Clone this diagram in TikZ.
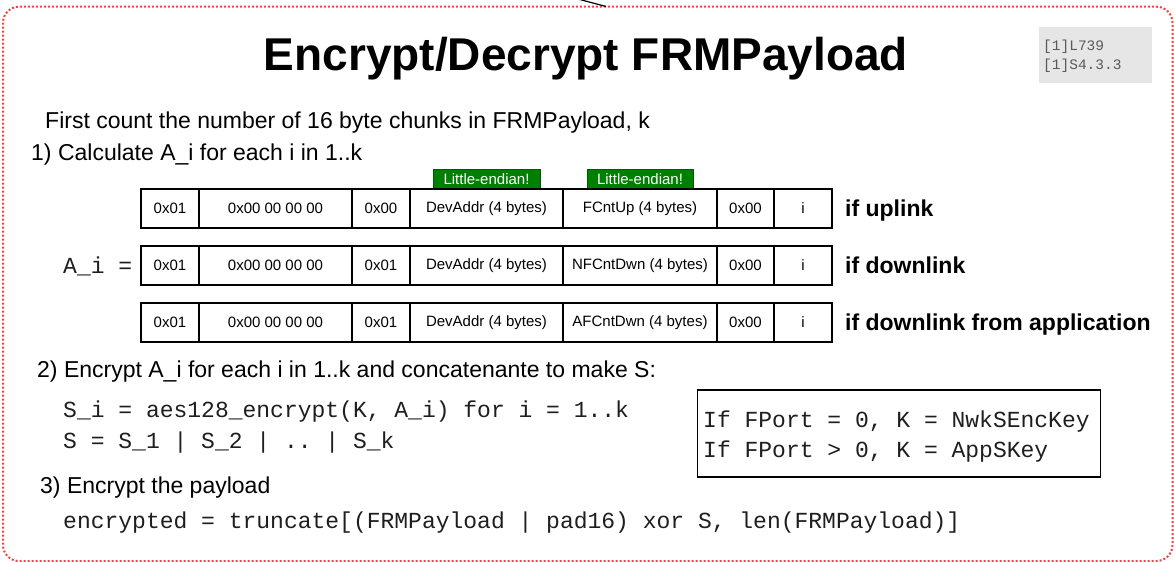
\documentclass[tikz,border=0pt]{standalone}
\usepackage{fontspec}
\setmainfont{Liberation Sans}
\setmonofont{Liberation Mono}
\usetikzlibrary{arrows.meta}
\definecolor{frameRed}{RGB}{255,60,60}
\definecolor{lgreen}{RGB}{0,128,0}
\definecolor{lgreenB}{RGB}{0,90,0}
\definecolor{refgray}{RGB}{230,230,230}
\definecolor{reftext}{RGB}{90,90,90}
\definecolor{codecol}{RGB}{30,30,30}
\newcommand\fs[1]{\fontsize{#1}{#1}\selectfont}
\newcommand\arow[4]{%
  \node[cell, minimum width=58pt]  (#1a) at (170,#2)   {0x01};
  \node[cell, minimum width=153pt] (#1b) at (275.5,#2) {0x00 00 00 00};
  \node[cell, minimum width=58pt]  (#1c) at (381,#2)   {#3};
  \node[cell, minimum width=153pt] (#1d) at (486.5,#2) {DevAddr (4 bytes)};
  \node[cell, minimum width=154pt] (#1e) at (640,#2)   {#4};
  \node[cell, minimum width=57pt]  (#1f) at (745.5,#2) {0x00};
  \node[cell, minimum width=58pt]  (#1g) at (803,#2)   {i};
}
\begin{document}
\begin{tikzpicture}[x=1pt,y=-1pt,
  cell/.style={draw, line width=1.4pt, minimum height=39pt, inner sep=0pt, font=\fs{15}},
  sidelbl/.style={anchor=base west, font=\bfseries\fs{23}, inner sep=0pt},
  txt/.style={anchor=base west, font=\fs{23}, inner sep=0pt},
  code/.style={anchor=base west, font=\ttfamily\fs{23}, text=codecol, inner sep=0pt},
  endian/.style={fill=lgreen, draw=lgreenB, line width=0.8pt, text=white, font=\fs{15}, minimum height=20pt, inner sep=0pt},
  reftxt/.style={anchor=base west, font=\ttfamily\fs{14.5}, text=reftext, inner sep=0pt},
]
\useasboundingbox (0,0) rectangle (1175,562);
% frame
\draw[frameRed, line width=2pt, dash pattern=on 2pt off 2pt, rounded corners=16pt] (3,6.7) rectangle (1172.5,561);
% stray connector end at top
\coordinate (sa) at (578,-1);
\coordinate (sb) at (606,6.5);
\draw[line width=1.2pt] (sa) -- (sb);
% title
\node[anchor=base, font=\bfseries\fs{46}, inner sep=0pt] (title) at (586,70) {Encrypt/Decrypt FRMPayload};
% ref box
\node[fill=refgray, minimum width=113pt, minimum height=56pt, inner sep=0pt] (refbox) at (1095.5,55) {};
\node[reftxt] (ref1) at (1043,50) {[1]L739};
\node[reftxt] (ref2) at (1043,69) {[1]S4.3.3};
% texts
\node[txt] (t0) at (45,128.5) {First count the number of 16 byte chunks in FRMPayload, k};
\node[txt] (t1) at (31,160) {1) Calculate A\_i for each i in 1..k};
% endian labels
\node[endian, minimum width=107pt] (le1) at (486.5,179) {Little-endian!};
\node[endian, minimum width=106pt] (le2) at (640,179) {Little-endian!};
% rows
\arow{r1}{208.5}{0x00}{FCntUp (4 bytes)}
\arow{r2}{265.5}{0x01}{NFCntDwn (4 bytes)}
\arow{r3}{322.5}{0x01}{AFCntDwn (4 bytes)}
\node[sidelbl] (s1) at (845,216) {if uplink};
\node[sidelbl] (s2) at (845,273) {if downlink};
\node[sidelbl] (s3) at (845,330) {if downlink from application};
\node[code] (ai) at (63,273) {A\_i =};
% step 2
\node[txt] (t2) at (37,377) {2) Encrypt A\_i for each i in 1..k and concatenante to make S:};
\node[code] (c1) at (63,417) {S\_i = aes128\_encrypt(K, A\_i) for i = 1..k};
\node[code] (c2) at (63,448) {S = S\_1 | S\_2 | .. | S\_k};
\node[draw, line width=1.4pt, minimum width=403.5pt, minimum height=87pt, inner sep=0pt] (keybox) at (899,433.5) {};
\node[code] (k1) at (703,427) {If FPort = 0, K = NwkSEncKey};
\node[code] (k2) at (703,457) {If FPort > 0, K = AppSKey};
% step 3
\node[txt] (t3) at (40,493) {3) Encrypt the payload};
\node[code] (c3) at (63,528) {encrypted = truncate[(FRMPayload | pad16) xor S, len(FRMPayload)]};
\end{tikzpicture}
\end{document}
